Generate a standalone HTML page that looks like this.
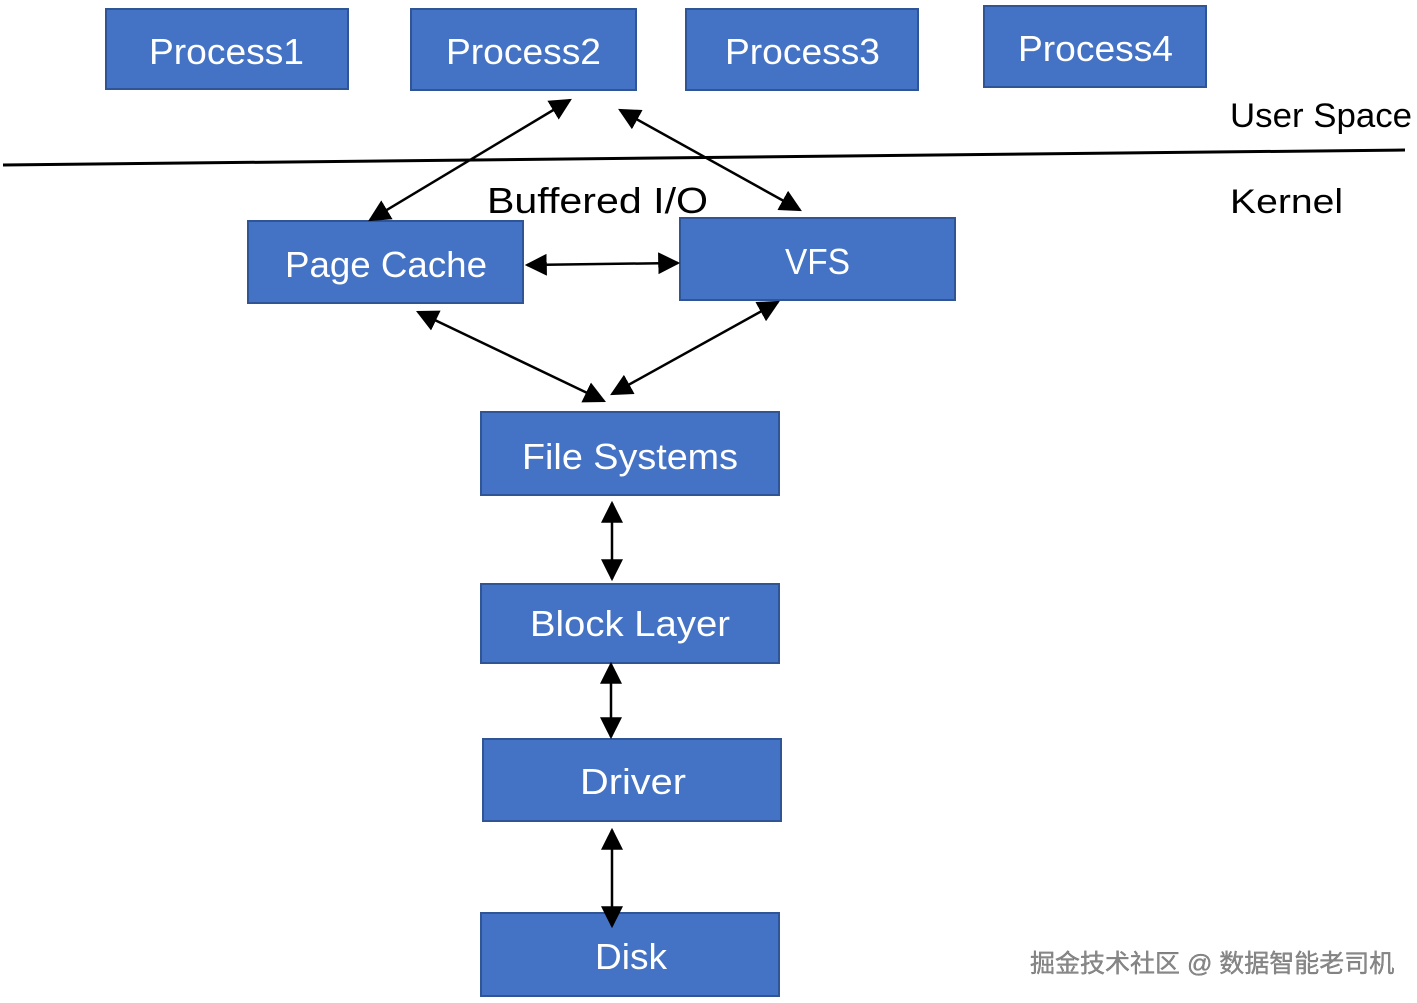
<!DOCTYPE html>
<html><head><meta charset="utf-8"><style>
html,body{margin:0;padding:0;background:#fff;}
svg{display:block;}
.b{fill:#4472C4;stroke:#2F5597;stroke-width:2;}
.t{fill:#fff;font-family:"Liberation Sans",sans-serif;font-size:36px;}
.k{fill:#000;font-family:"Liberation Sans",sans-serif;}
.l{stroke:#000;stroke-width:2.5;fill:none;marker-start:url(#a2);marker-end:url(#a2);}
</style></head><body>
<svg width="1417" height="1003" viewBox="0 0 1417 1003" xmlns="http://www.w3.org/2000/svg">
<defs>
<marker id="a2" viewBox="0 0 10 10" refX="9" refY="5" markerWidth="22" markerHeight="22" markerUnits="userSpaceOnUse" orient="auto-start-reverse">
<path d="M0,0 L10,5 L0,10 z" fill="#000"/>
</marker>
</defs>
<rect class="b" x="106" y="9" width="242" height="80"/><text class="t" x="149" y="64" textLength="155" lengthAdjust="spacingAndGlyphs">Process1</text>
<rect class="b" x="411" y="9" width="225" height="81"/><text class="t" x="446" y="64" textLength="155" lengthAdjust="spacingAndGlyphs">Process2</text>
<rect class="b" x="686" y="9" width="232" height="81"/><text class="t" x="725" y="64" textLength="155" lengthAdjust="spacingAndGlyphs">Process3</text>
<rect class="b" x="984" y="6" width="222" height="81"/><text class="t" x="1018" y="61" textLength="155" lengthAdjust="spacingAndGlyphs">Process4</text>
<rect class="b" x="248" y="221" width="275" height="82"/><text class="t" x="285" y="277" textLength="202" lengthAdjust="spacingAndGlyphs">Page Cache</text>
<rect class="b" x="680" y="218" width="275" height="82"/><text class="t" x="785" y="274" textLength="65" lengthAdjust="spacingAndGlyphs">VFS</text>
<rect class="b" x="481" y="412" width="298" height="83"/><text class="t" x="522" y="469" textLength="216" lengthAdjust="spacingAndGlyphs">File Systems</text>
<rect class="b" x="481" y="584" width="298" height="79"/><text class="t" x="530" y="636" textLength="200" lengthAdjust="spacingAndGlyphs">Block Layer</text>
<rect class="b" x="483" y="739" width="298" height="82"/><text class="t" x="580" y="794" textLength="106" lengthAdjust="spacingAndGlyphs">Driver</text>
<rect class="b" x="481" y="913" width="298" height="83"/><text class="t" x="595" y="969" textLength="72" lengthAdjust="spacingAndGlyphs">Disk</text>
<line x1="3" y1="165" x2="1405" y2="150" stroke="#000" stroke-width="3"/>
<text class="k" x="1230" y="127" font-size="34" textLength="182" lengthAdjust="spacingAndGlyphs">User Space</text>
<text class="k" x="1230" y="213" font-size="34" textLength="113" lengthAdjust="spacingAndGlyphs">Kernel</text>
<text class="k" x="487" y="213" font-size="36" textLength="221" lengthAdjust="spacingAndGlyphs">Buffered I/O</text>
<line class="l" x1="370" y1="220" x2="570" y2="100"/>
<line class="l" x1="620" y1="110" x2="800" y2="210"/>
<line class="l" x1="527" y1="265" x2="678" y2="263"/>
<line class="l" x1="418" y1="312" x2="604" y2="401"/>
<line class="l" x1="778" y1="302" x2="612" y2="394"/>
<line class="l" x1="612" y1="503" x2="612" y2="579"/>
<line class="l" x1="611" y1="664" x2="611" y2="737"/>
<line class="l" x1="612" y1="830" x2="612" y2="926"/>
<text x="1030" y="972" font-size="25" fill="#888" stroke="#666" stroke-width="0.3" font-family="'Liberation Sans','Noto Sans CJK SC',sans-serif">掘金技术社区 @ 数据智能老司机</text>
</svg>
</body></html>
